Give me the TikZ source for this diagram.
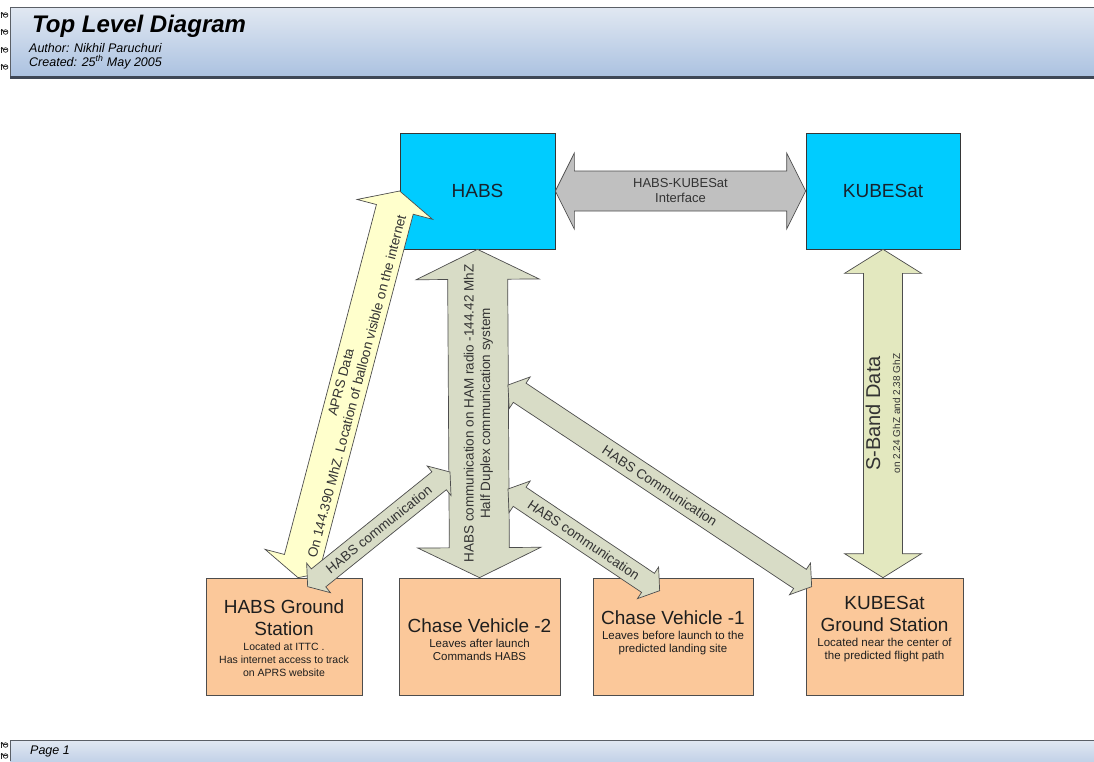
\documentclass[tikz,border=0pt]{standalone}
\usepackage{fontspec}
\setmainfont{Liberation Sans}
\usetikzlibrary{calc}

\definecolor{cyanfill}{HTML}{00CCFF}
\definecolor{peach}{HTML}{FBC89A}
\definecolor{edge}{HTML}{4D4D4D}
\definecolor{ifacegrey}{HTML}{C0C0C0}
\definecolor{commgreen}{HTML}{D8DCC6}
\definecolor{aprsyellow}{HTML}{FFFFCC}
\definecolor{sbandgreen}{HTML}{E3E8BF}
\definecolor{inktext}{HTML}{1E1E1E}
\definecolor{arrowink}{HTML}{333333}
\definecolor{navyink}{HTML}{18232E}
\definecolor{bartop}{HTML}{E1E8F2}
\definecolor{barbot}{HTML}{AAC1E0}
\definecolor{footbot}{HTML}{C3D2E8}
\definecolor{baredge}{HTML}{5A5F66}
\definecolor{barshadow}{HTML}{3E4756}

% fat double-headed arrow between two points:
% #1 style, #2 from, #3 to, #4 shaft half-width, #5 head half-width, #6 head length (pt)
\newcommand\fatarrow[6]{%
  \path[#1] let \p1=(#2), \p2=(#3), \n1={atan2(\y2-\y1,\x2-\x1)} in
    (\p1)
    -- ($(\p1)+(\n1:#6pt)+(\n1+90:#5pt)$)
    -- ($(\p1)+(\n1:#6pt)+(\n1+90:#4pt)$)
    -- ($(\p2)+(\n1:-#6pt)+(\n1+90:#4pt)$)
    -- ($(\p2)+(\n1:-#6pt)+(\n1+90:#5pt)$)
    -- (\p2)
    -- ($(\p2)+(\n1:-#6pt)+(\n1-90:#5pt)$)
    -- ($(\p2)+(\n1:-#6pt)+(\n1-90:#4pt)$)
    -- ($(\p1)+(\n1:#6pt)+(\n1-90:#4pt)$)
    -- ($(\p1)+(\n1:#6pt)+(\n1-90:#5pt)$)
    -- cycle;}

\newcommand\boxtitle{\fontsize{19}{21}\selectfont}
\newcommand\smallsub{\fontsize{10.5}{12}\selectfont}

\tikzset{
  clipmark/.pic={
    \draw[line width=.6pt, black!85] (0,-3) -- (0,3);
    \fill[black!85] (1,-1.6) circle (1.3pt);
    \draw[line width=.7pt, black!85] (4.6,0) circle (2.3pt);
    \draw[line width=.5pt, black!85] (3.3,-.3) -- (5.9,-.3);
  }
}

\begin{document}
\begin{tikzpicture}[x=1pt, y=-1pt,
  cyanbox/.style={draw=edge!70!black, line width=0.7pt, fill=cyanfill, inner sep=0pt,
                  text=navyink, font=\fontsize{19}{21}\selectfont},
  peachbox/.style={draw=edge, line width=0.7pt, fill=peach, inner sep=0pt},
  boxtext/.style={align=center, inner sep=0pt, text=inktext, font=\fontsize{11.5}{13}\selectfont},
  arrowbody/.style={draw=edge, line width=0.7pt, line join=miter},
  arrowtext/.style={align=center, inner sep=0pt, text=arrowink, font=\fontsize{13.5}{16.5}\selectfont},
  bartext/.style={anchor=base west, inner sep=0pt, text=black}
]

\useasboundingbox (0,0) rectangle (1094,761);
\fill[white] (0,0) rectangle (1094,761);

% ---------- title bar ----------
\shade[top color=bartop, bottom color=barbot] (10,7) rectangle (1094,78);
\draw[line width=1pt, baredge] (1094,7) -- (10,7) -- (10,78);
\draw[line width=2.2pt, barshadow] (10,77.5) -- (1094,77.5);
\foreach \yy in {15,32,50,67} \pic at (1,\yy) {clipmark};
\node[bartext, font=\fontsize{24}{28}\selectfont\bfseries\itshape] (title) at (32,32) {Top Level Diagram};
\node[bartext, font=\fontsize{12.5}{14}\selectfont\itshape] (author) at (29,52) {Author: Nikhil Paruchuri};
\node[bartext, font=\fontsize{12.5}{14}\selectfont\itshape] (created) at (29,66) {Created: 25\textsuperscript{th} May 2005};

% ---------- footer bar ----------
\shade[top color=bartop, bottom color=footbot] (10,740) rectangle (1094,761);
\draw[line width=1pt, baredge] (1094,740) -- (10,740) -- (10,761);
\foreach \yy in {745,756} \pic at (1,\yy) {clipmark};
\node[bartext, font=\fontsize{12.5}{14}\selectfont\itshape] (page) at (30,754) {Page 1};

% ---------- system blocks ----------
\node[cyanbox, minimum width=155pt, minimum height=116pt] (habs) at (477.5,191) {HABS};
\node[cyanbox, minimum width=154pt, minimum height=116pt] (kube) at (883,191) {KUBESat};

\node[peachbox, minimum width=156pt, minimum height=117pt] (hgs) at (284,636.5) {};
\node[peachbox, minimum width=161pt, minimum height=117pt] (cv2) at (479.5,636.5) {};
\node[peachbox, minimum width=160pt, minimum height=117pt] (cv1) at (673,636.5) {};
\node[peachbox, minimum width=157pt, minimum height=117pt] (kgs) at (884.5,636.5) {};

\node[boxtext] (hgstext) at ($(hgs.center)+(0,2)$)
  {{\boxtitle HABS Ground}\\[7pt]{\boxtitle Station}\\[2pt]{\smallsub Located at ITTC .}\\{\smallsub Has internet access to track}\\{\smallsub on APRS website}};
\node[boxtext] (cv2text) at ($(cv2.center)+(0,3)$)
  {{\boxtitle Chase Vehicle -2}\\[2pt]Leaves after launch\\Commands HABS};
\node[boxtext] (cv1text) at ($(cv1.center)+(0,-4)$)
  {{\boxtitle Chase Vehicle -1}\\[2pt]Leaves before launch to the\\predicted landing site};
\node[boxtext] (kgstext) at ($(kgs.center)+(0,-7)$)
  {{\boxtitle KUBESat}\\[7pt]{\boxtitle Ground Station}\\[2pt]Located near the center of\\the predicted flight path};

% ---------- link end points ----------
\coordinate (aprsfoot) at ($(hgs.north)+(14,0)$);
\coordinate (sbfoot) at (kube.south |- kgs.north);
\coordinate (c2foot) at ($(hgs.north west)+(102,9)$);
\coordinate (c2top) at (450,472);
\coordinate (c1top) at (508,489);
\coordinate (c1foot) at ($(cv1.north west)+(67,13)$);
\coordinate (cktop) at (508,385);
\coordinate (ckfoot) at ($(kgs.north west)+(6,9)$);

% ---------- links ----------
\fatarrow{arrowbody, fill=ifacegrey}{habs.east}{kube.west}{20}{38}{19}
\fatarrow{arrowbody, fill=aprsyellow}{aprsfoot}{habs.west}{19}{39}{19}
\fatarrow{arrowbody, fill=commgreen}{cv2.north}{habs.south}{30}{61.5}{30}
\fatarrow{arrowbody, fill=sbandgreen}{sbfoot}{kube.south}{19.5}{38.5}{24}
\fatarrow{arrowbody, fill=commgreen}{c2foot}{c2top}{11.5}{19}{14}
\fatarrow{arrowbody, fill=commgreen}{c1top}{c1foot}{11.5}{19}{14}
\fatarrow{arrowbody, fill=commgreen}{cktop}{ckfoot}{11.5}{19}{14}

% ---------- link labels ----------
\path (habs.east) -- (kube.west)
  node[arrowtext, midway, font=\fontsize{13}{15}\selectfont] (ifacelbl) {HABS-KUBESat\\Interface};
\path (aprsfoot) -- (habs.west)
  node[arrowtext, midway, sloped] (aprslbl) {APRS Data\\On 144.390 MhZ. Location of balloon visible on the internet};
\path (cv2.north) -- (habs.south)
  node[arrowtext, midway, rotate=90] (hamlbl) {HABS communication on HAM radio -144.42 MhZ\\Half Duplex communication system};
\path (sbfoot) -- (kube.south)
  node[arrowtext, midway, rotate=90, font=\fontsize{20}{20}\selectfont] (sbandlbl) {S-Band Data\\{\fontsize{10}{12}\selectfont on 2.24 GhZ and 2.38 GhZ}};
\path (c2foot) -- (c2top)
  node[arrowtext, midway, sloped] (c2lbl) {HABS communication};
\path (c1top) -- (c1foot)
  node[arrowtext, midway, sloped] (c1lbl) {HABS communication};
\path (cktop) -- (ckfoot)
  node[arrowtext, midway, sloped] (cklbl) {HABS Communication};

\end{tikzpicture}
\end{document}
